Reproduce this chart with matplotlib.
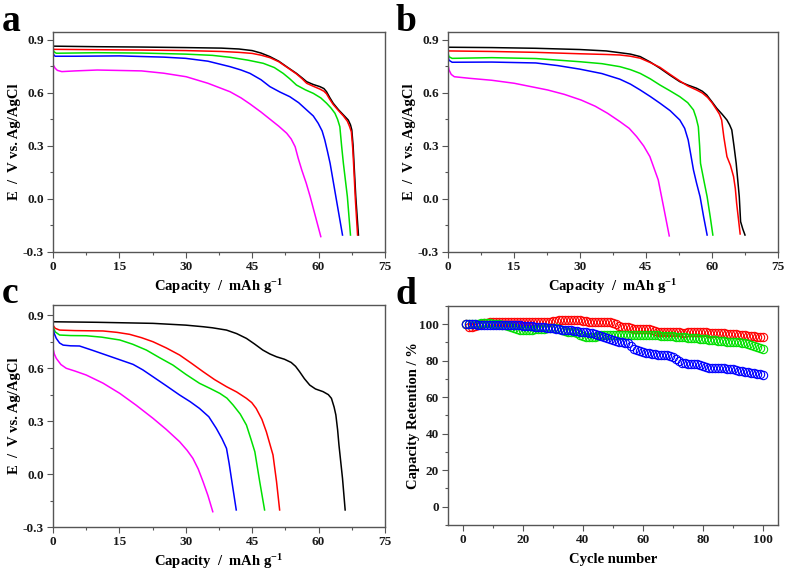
import matplotlib
matplotlib.use("Agg")
import matplotlib.pyplot as plt
from matplotlib.ticker import MultipleLocator

plt.rcParams["font.family"] = ["Liberation Serif", "DejaVu Serif"]
plt.rcParams["font.weight"] = "bold"
plt.rcParams["mathtext.fontset"] = "custom"
plt.rcParams["mathtext.rm"] = "Liberation Serif:bold"
plt.rcParams["mathtext.bf"] = "Liberation Serif:bold"
plt.rcParams["mathtext.default"] = "bf"

colors = ["black", "red", "#00e000", "blue", "#ff00ff"]

# panel a
a_x = [
    [0, 0.3, 10, 20, 30, 38, 42, 45, 47, 49, 51, 53, 55, 56.3, 57.3, 58.8, 60.3, 61.2, 61.8, 62.5, 63.3, 64.5, 65.6, 66.7, 67.2, 67.5, 67.8, 68.0, 68.4, 69.0],
    [0, 0.3, 10, 20, 30, 38, 42, 45, 47, 49, 51, 53, 55, 56.3, 57.3, 58.8, 60.3, 61.2, 61.8, 62.5, 63.3, 64.5, 65.6, 66.5, 67.0, 67.4, 67.7, 67.9, 68.3, 68.8],
    [0, 0.3, 0.75, 10, 20, 30, 36, 40, 44, 47.5, 50, 52, 53.5, 55, 57, 58.8, 60.5, 61.8, 62.8, 63.7, 64.3, 64.8, 65.2, 65.6, 66.5, 67.2],
    [0, 0.2, 0.5, 5, 15, 25, 30, 35, 40, 42.5, 44.5, 47, 49, 51.3, 53.5, 55.5, 57.3, 58.8, 59.9, 60.8, 61.4, 62.0, 62.6, 63.9, 65.4],
    [0, 0.5, 1, 2, 5, 10, 20, 25, 30.1, 35, 40, 42.5, 44.5, 47, 49, 51, 52.8, 53.8, 54.7, 55.4, 56.2, 57.2, 58.1, 59.3, 60.5],
]
a_y = [
    [0.866, 0.865, 0.862, 0.86, 0.857, 0.854, 0.849, 0.84, 0.826, 0.806, 0.78, 0.745, 0.711, 0.685, 0.664, 0.648, 0.636, 0.625, 0.607, 0.575, 0.542, 0.505, 0.476, 0.447, 0.42, 0.391, 0.3, 0.202, 0.013, -0.204],
    [0.85, 0.847, 0.845, 0.843, 0.84, 0.835, 0.83, 0.824, 0.814, 0.8, 0.777, 0.743, 0.708, 0.68, 0.655, 0.638, 0.622, 0.61, 0.595, 0.565, 0.535, 0.5, 0.47, 0.44, 0.41, 0.38, 0.29, 0.2, 0.0, -0.204],
    [0.845, 0.832, 0.825, 0.828, 0.826, 0.82, 0.813, 0.802, 0.786, 0.768, 0.744, 0.711, 0.68, 0.645, 0.618, 0.598, 0.572, 0.542, 0.515, 0.485, 0.45, 0.409, 0.3, 0.202, 0.013, -0.204],
    [0.83, 0.815, 0.808, 0.808, 0.81, 0.803, 0.796, 0.78, 0.749, 0.73, 0.711, 0.675, 0.636, 0.605, 0.579, 0.545, 0.504, 0.47, 0.429, 0.385, 0.334, 0.27, 0.202, 0.013, -0.204],
    [0.761, 0.74, 0.728, 0.721, 0.725, 0.73, 0.725, 0.712, 0.692, 0.655, 0.607, 0.572, 0.538, 0.492, 0.452, 0.412, 0.372, 0.34, 0.296, 0.23, 0.164, 0.09, 0.013, -0.1, -0.213],
]

# panel b
b_x = [
    [0, 10, 20, 30, 36, 39.1, 41.5, 43.7, 46, 48.2, 50.5, 52.7, 54.5, 56.5, 57.8, 58.8, 60, 61.1, 62.3, 63.4, 64.0, 64.5, 65.0, 65.5, 66.2, 66.5, 67.0, 67.5],
    [0, 0.3, 10, 20, 30, 36, 39.1, 41.5, 43.7, 46, 48.2, 50.5, 52.7, 54.5, 56.5, 57.8, 59, 60, 61.1, 61.7, 62.2, 62.7, 63.4, 64.2, 64.9, 65.3, 65.6, 66.4],
    [0, 0.3, 1, 10, 20, 30, 35, 39.1, 41.5, 43.7, 46, 48.2, 50.5, 52.7, 54.5, 55.8, 56.4, 56.9, 57.2, 57.4, 58.2, 58.9, 59.6, 60.2],
    [0, 0.3, 1, 10, 20, 25, 30, 35, 39.1, 41.5, 43.7, 46, 48.2, 50.5, 52.7, 53.8, 54.6, 55.2, 55.8, 56.5, 57.3, 58.1, 58.9],
    [0, 0.3, 0.8, 1.5, 5, 10, 15.1, 22.7, 26.5, 30.3, 33.5, 36.3, 39.1, 41.2, 42.9, 44.5, 45.9, 47.8, 49.0, 50.3],
]
b_y = [
    [0.859, 0.857, 0.853, 0.846, 0.838, 0.828, 0.82, 0.806, 0.775, 0.74, 0.7, 0.664, 0.645, 0.627, 0.61, 0.589, 0.55, 0.513, 0.48, 0.447, 0.42, 0.391, 0.3, 0.202, 0.013, -0.128, -0.17, -0.204],
    [0.845, 0.838, 0.835, 0.83, 0.822, 0.818, 0.815, 0.808, 0.797, 0.772, 0.745, 0.705, 0.668, 0.64, 0.617, 0.6, 0.575, 0.545, 0.504, 0.48, 0.447, 0.35, 0.24, 0.19, 0.127, 0.06, -0.024, -0.198],
    [0.83, 0.805, 0.796, 0.8, 0.795, 0.777, 0.766, 0.749, 0.732, 0.711, 0.68, 0.645, 0.612, 0.579, 0.545, 0.504, 0.46, 0.409, 0.3, 0.202, 0.1, 0.013, -0.1, -0.204],
    [0.815, 0.785, 0.774, 0.775, 0.77, 0.755, 0.735, 0.71, 0.678, 0.65, 0.617, 0.58, 0.542, 0.5, 0.447, 0.4, 0.334, 0.25, 0.164, 0.09, 0.013, -0.1, -0.204],
    [0.768, 0.73, 0.705, 0.692, 0.683, 0.672, 0.655, 0.617, 0.592, 0.56, 0.525, 0.485, 0.438, 0.4, 0.353, 0.3, 0.24, 0.108, -0.043, -0.209],
]

# panel c
c_x = [
    [0, 10, 22.6, 30, 33.9, 36, 39.2, 41.5, 43.7, 45.5, 47.4, 49, 50.5, 52.3, 53.8, 54.8, 55.7, 56.8, 58, 59.3, 61, 62.2, 62.9, 63.5, 63.9, 64.3, 64.6, 65.4, 66.0],
    [0, 0.5, 1.5, 5, 11.3, 14.5, 17.3, 20, 22.6, 25.6, 28.6, 31.3, 33.9, 36.5, 39.2, 41.5, 43.7, 44.9, 45.9, 47.2, 48.2, 49.0, 49.7, 50.5, 51.2],
    [0, 0.5, 1.5, 4, 7.5, 11, 15.1, 18, 21.1, 24, 27.1, 30, 33.1, 35.5, 37.7, 39.3, 40.7, 42.3, 43.7, 44.7, 45.6, 46.7, 47.8],
    [0, 0.3, 0.75, 1.5, 2.3, 4, 6, 9, 12, 15, 18.1, 20.3, 22.6, 25.6, 28.6, 31, 33.1, 35.2, 36.9, 38.2, 39.2, 39.8, 40.3, 41.4],
    [0, 0.3, 0.75, 1.8, 3, 5, 7.5, 11.3, 15.1, 18.8, 22.6, 25.6, 28.6, 30.3, 31.6, 32.8, 33.9, 35, 36.1],
]
c_y = [
    [0.862, 0.859, 0.853, 0.843, 0.834, 0.828, 0.815, 0.795, 0.768, 0.737, 0.702, 0.68, 0.664, 0.65, 0.632, 0.61, 0.58, 0.54, 0.504, 0.482, 0.467, 0.45, 0.429, 0.38, 0.335, 0.25, 0.165, -0.023, -0.202],
    [0.843, 0.825, 0.815, 0.812, 0.81, 0.802, 0.791, 0.772, 0.749, 0.714, 0.674, 0.627, 0.58, 0.535, 0.495, 0.465, 0.429, 0.405, 0.372, 0.31, 0.24, 0.17, 0.109, -0.042, -0.202],
    [0.834, 0.805, 0.787, 0.784, 0.783, 0.775, 0.759, 0.735, 0.702, 0.66, 0.617, 0.565, 0.514, 0.485, 0.457, 0.43, 0.391, 0.34, 0.278, 0.2, 0.127, -0.042, -0.202],
    [0.825, 0.795, 0.768, 0.742, 0.73, 0.726, 0.725, 0.7, 0.674, 0.648, 0.621, 0.59, 0.551, 0.5, 0.448, 0.41, 0.372, 0.325, 0.259, 0.2, 0.146, 0.06, -0.023, -0.202],
    [0.712, 0.68, 0.655, 0.62, 0.599, 0.583, 0.561, 0.515, 0.457, 0.39, 0.316, 0.253, 0.184, 0.135, 0.09, 0.03, -0.042, -0.12, -0.212],
]

# panel d - capacity retention per cycle
cycles = list(range(1, 101))
ret_red = [100, 98.5, 98.5, 99, 99.5, 100, 100.5, 100.5, 101, 101,
           101, 101, 101, 101, 101, 101, 101, 101, 101, 101,
           101, 101.5, 101.5, 101.5, 101.5, 101.5, 101.5, 101.5, 101.5, 102,
           102, 102.5, 102.5, 102.5, 102.5, 102.5, 102.5, 102.5, 102.5, 102,
           102, 101.5, 101.5, 101.5, 101.5, 101, 101, 101, 101, 100.5,
           100, 99, 98.5, 98.5, 98.5, 98, 97.5, 97.5, 97.5, 97.5,
           97.5, 97.5, 97, 96.5, 96, 96, 95.5, 95.5, 96, 96,
           95.5, 95.5, 95, 95, 95.5, 95.5, 95.5, 95.5, 95.5, 95.5,
           95.5, 95, 95, 95, 95, 95, 95, 94.5, 94.5, 94.5,
           94.5, 94, 94, 94, 93.5, 93.5, 93.5, 93, 93, 93]
ret_green = [100, 100, 100, 100, 100, 100.5, 100.5, 100.5, 100.5, 100,
             100, 100, 99.5, 99.5, 99, 98.5, 98, 97.5, 97, 97,
             97, 97, 97, 97.5, 97.5, 97.5, 97.5, 98, 98, 98,
             98, 97.5, 97, 96.5, 96, 95.5, 95.5, 95, 94, 93.5,
             93, 93, 93, 93, 93.5, 94, 94, 94, 94, 94,
             94, 94, 94, 94, 94, 94, 94, 94, 94, 94,
             94, 94, 94, 94, 94, 93.5, 93.5, 93.5, 93.5, 93.5,
             93, 93, 93, 93, 92.5, 92.5, 92.5, 92.5, 92, 92,
             92, 91.5, 91.5, 91.5, 91, 91, 91, 90.5, 90.5, 90.5,
             90, 90, 89.5, 89.5, 89, 88.5, 88, 87.5, 87, 86.5]
ret_blue = [100, 100, 100, 100, 99.5, 99.5, 99.5, 99.5, 99.5, 99.5,
            99.5, 99.5, 99.5, 99.5, 99.5, 99.5, 99.5, 99.5, 99.5, 99,
            99, 99, 99, 98.5, 98.5, 98.5, 98.5, 98, 98, 98,
            97.5, 97.5, 97, 97, 97, 97, 96.5, 96.5, 96, 96,
            95.5, 95, 95, 94.5, 94, 93.5, 93, 92.5, 92, 91.5,
            91, 90.5, 90, 89.5, 89.5, 88, 86.5, 86, 85.5, 85,
            84.5, 84, 83.5, 83.5, 83, 83, 83, 83, 82.5, 82,
            81, 80, 79, 78.5, 78, 78, 78, 78, 77.5, 77,
            76.5, 76, 76, 76, 76, 76, 76, 75.5, 75.5, 75.5,
            75, 74.5, 74.5, 74, 74, 73.5, 73.5, 73, 72.5, 72]

fig = plt.figure(figsize=(7.87, 5.74), dpi=100)

rects = [
    [0.0673, 0.561, 0.4219, 0.3838],
    [0.5689, 0.561, 0.4197, 0.3838],
    [0.0673, 0.0814, 0.4219, 0.3873],
    [0.5689, 0.0854, 0.4197, 0.3815],
]
letters = ["a", "b", "c", "d"]
letter_pos = [(0.002, 0.946), (0.503, 0.946), (0.002, 0.472), (0.503, 0.470)]

axes = [fig.add_axes(r) for r in rects]


def style(ax):
    for s in ax.spines.values():
        s.set_color("#555555")
        s.set_linewidth(1.0)
    ax.tick_params(which="both", direction="out", top=False, right=False,
                   colors="#555555", labelcolor="#1a1a1a", labelsize=9.5, pad=2.5)
    ax.tick_params(which="major", length=4, width=0.8)
    ax.tick_params(which="minor", length=2, width=0.8)
    for lab in ax.get_xticklabels() + ax.get_yticklabels():
        lab.set_fontweight("bold")


curves = [(a_x, a_y), (b_x, b_y), (c_x, c_y)]
ylims = [(-0.3, 0.947), (-0.3, 0.947), (-0.3, 0.957)]
for ax, (xs, ys), yl in zip(axes[:3], curves, ylims):
    for x, y, c in zip(xs, ys, colors):
        ax.plot(x, y, color=c, lw=1.1)
    ax.set_xlim(0, 75)
    ax.set_ylim(*yl)
    ax.xaxis.set_major_locator(MultipleLocator(15))
    ax.xaxis.set_minor_locator(MultipleLocator(7.5))
    ax.yaxis.set_minor_locator(MultipleLocator(0.15))
    ax.set_yticks([-0.3, 0.0, 0.3, 0.6, 0.9])
    ax.set_yticklabels(["-0.3", "0.0", "0.3", "0.6", "0.9"])
    ax.set_xlabel(r"Capacity  /  mAh g$^{-1}$", fontsize=10.5, fontweight="bold", labelpad=3)
    ax.set_ylabel("E  /  V vs. Ag/AgCl", fontsize=10.5, fontweight="bold", labelpad=1)
    style(ax)

ax = axes[3]
for ret, c in zip([ret_red, ret_green, ret_blue], ["red", "#00e000", "blue"]):
    ax.plot(cycles, ret, "o", ms=6, mfc="none", mec=c, mew=0.8)
ax.set_xlim(-5, 105)
ax.set_ylim(-10, 110)
ax.xaxis.set_major_locator(MultipleLocator(20))
ax.xaxis.set_minor_locator(MultipleLocator(10))
ax.yaxis.set_major_locator(MultipleLocator(20))
ax.yaxis.set_minor_locator(MultipleLocator(10))
ax.set_xlabel("Cycle number", fontsize=10.5, fontweight="bold", labelpad=5)
ax.set_ylabel("Capacity Retention / %", fontsize=10.5, fontweight="bold", labelpad=-1)
style(ax)

for l, (px, py) in zip(letters, letter_pos):
    fig.text(px, py, l, fontsize=27, fontweight="bold", ha="left", va="baseline")

plt.savefig("out.png", dpi=100)
